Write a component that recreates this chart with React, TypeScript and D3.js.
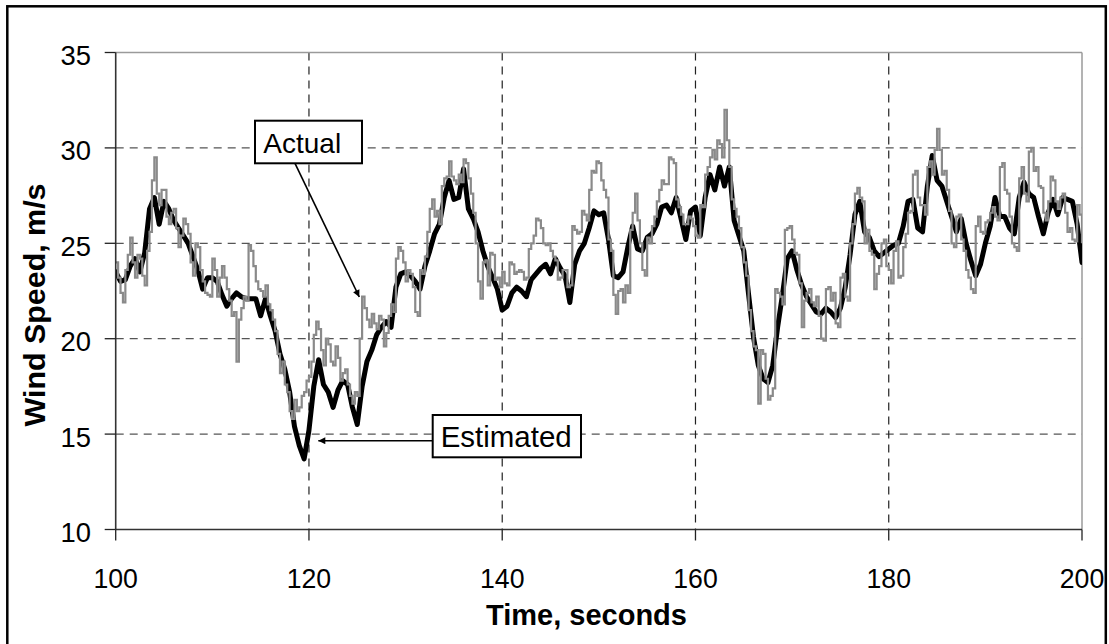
import React from "react";
import * as d3 from "d3";

// Sampling start / steps of the two records (seconds)
const T_START = 100;
const EST_STEP = 0.5;
const ACT_STEP = 0.25;

// Estimated wind speed (black, thick), m/s, every 0.5 s from 100 to 200
const estimated: number[] = [
  23.5, 23.0, 23.1, 23.8, 24.2, 23.5, 24.5, 26.8, 27.4, 26.0,
  27.2, 26.8, 26.2, 25.8, 25.4, 25.0, 24.3, 23.6, 22.6, 23.2,
  23.2, 23.0, 22.3, 21.7, 22.1, 22.4, 22.2, 22.1, 22.1, 22.1,
  21.2, 22.1, 21.2, 20.4, 19.2, 18.4, 17.2, 15.4, 14.4, 13.7,
  15.2, 17.5, 18.9, 17.6, 17.2, 16.4, 17.3, 17.8, 17.6, 16.4,
  15.5, 17.5, 18.8, 19.4, 20.2, 20.6, 20.9, 20.6, 22.7, 23.4,
  23.5, 23.3, 23.0, 22.6, 23.8, 24.6, 25.5, 26.0, 27.4, 28.3,
  27.3, 27.4, 28.9, 26.8, 26.3, 25.6, 24.6, 23.8, 23.2, 22.6,
  21.5, 21.7, 22.4, 22.7, 22.5, 22.2, 23.1, 23.4, 23.7, 23.9,
  23.4, 24.2, 23.7, 23.3, 21.9, 23.9, 24.6, 25.0, 25.8, 26.7,
  26.5, 26.6, 25.2, 23.3, 23.2, 23.5, 24.8, 25.9, 24.7, 24.6,
  25.3, 25.5, 26.0, 26.9, 27.0, 26.6, 27.4, 26.3, 25.2, 26.7,
  26.9, 25.4, 27.4, 28.6, 27.8, 29.0, 28.0, 29.0, 26.2, 25.4,
  24.6, 22.3, 20.1, 18.6, 17.9, 17.7, 18.6, 20.6, 22.3, 24.2,
  24.6, 23.6, 22.8, 22.2, 21.8, 21.4, 21.3, 21.6, 21.4, 21.1,
  21.6, 22.7, 24.4, 26.5, 27.2, 25.6, 25.3, 24.6, 24.3, 24.5,
  24.7, 24.9, 25.0, 25.9, 27.2, 27.3, 25.8, 25.6, 28.0, 29.6,
  28.3, 28.0, 27.2, 26.4, 25.6, 26.3, 25.0, 24.1, 23.3, 23.9,
  25.0, 25.9, 27.4, 26.4, 26.4, 25.8, 25.5, 27.4, 28.2, 27.6,
  27.4, 26.4, 25.5, 26.6, 27.3, 26.5, 27.4, 27.3, 27.2, 26.0,
  24.0,
];

// Actual wind speed (grey, thin), m/s, every 0.25 s from 100 to 200 (8 values = 2 s per row)
const actual: number[] = [
  24.0, 23.2, 22.4, 21.9, 23.6, 24.4, 25.3, 24.0,
  23.2, 24.4, 24.2, 23.3, 22.8, 24.6, 25.6, 28.3,
  29.5, 27.6, 27.0, 27.8, 27.8, 26.4, 26.0, 26.6,
  26.8, 25.8, 24.8, 25.4, 26.3, 26.0, 25.5, 24.0,
  23.3, 25.0, 24.8, 23.6, 23.0, 22.4, 22.3, 22.2,
  24.2, 23.6, 22.2, 23.2, 23.8, 23.2, 22.6, 22.0,
  21.2, 21.4, 18.8, 21.0, 21.6, 22.2, 22.0, 24.9,
  24.6, 23.8, 23.0, 22.6, 22.5, 22.2, 22.8, 21.8,
  21.5, 21.0, 20.4, 19.2, 18.2, 18.8, 17.6, 17.2,
  16.2, 15.8, 16.8, 16.2, 16.4, 17.0, 17.2, 17.8,
  18.0, 18.8, 20.2, 20.9, 20.5, 19.4, 18.6, 20.0,
  19.7, 18.8, 18.6, 19.6, 19.0, 17.8, 18.2, 18.4,
  17.6, 17.0, 16.6, 17.2, 17.0, 20.0, 22.2, 21.6,
  21.0, 20.6, 21.3, 20.8, 20.5, 21.2, 21.0, 19.6,
  20.3, 21.2, 21.8, 21.4, 24.2, 24.8, 24.6, 24.0,
  23.0, 23.6, 23.4, 22.7, 21.4, 21.2, 23.6, 23.4,
  24.3, 25.6, 26.8, 27.3, 26.4, 26.7, 26.0, 28.0,
  28.4, 28.5, 29.3, 28.5, 28.3, 28.1, 28.6, 28.2,
  29.4, 29.2, 28.4, 27.6, 26.6, 25.0, 23.0, 22.1,
  24.0, 24.1, 22.8, 24.5, 24.4, 23.1, 23.2, 22.7,
  23.5, 22.9, 22.8, 24.0, 23.9, 23.4, 23.5, 23.6,
  23.5, 23.1, 23.2, 24.7, 25.0, 25.4, 26.3, 26.2,
  25.8, 25.0, 24.9, 25.0, 24.6, 24.3, 24.1, 23.1,
  23.2, 23.6, 23.6, 22.7, 22.8, 25.9, 25.7, 25.5,
  25.6, 26.7, 26.5, 26.2, 27.8, 28.8, 28.7, 29.3,
  29.2, 28.3, 27.8, 27.4, 25.2, 24.6, 22.3, 21.3,
  22.5, 22.6, 21.9, 22.8, 22.4, 25.7, 26.6, 27.6,
  26.2, 25.0, 23.6, 23.3, 25.3, 25.0, 25.9, 26.4,
  27.2, 27.8, 28.3, 28.1, 28.1, 29.5, 29.4, 29.2,
  27.3, 26.9, 26.5, 26.0, 26.0, 26.4, 26.3, 25.9,
  25.4, 25.3, 27.0, 26.9, 28.6, 29.0, 29.5, 29.9,
  29.4, 30.4, 30.2, 29.5, 32.0, 30.4, 29.0, 27.3,
  26.8, 26.4, 25.8, 24.8, 24.0, 23.3, 21.5, 20.4,
  19.6, 19.4, 16.6, 19.4, 19.2, 17.9, 16.8, 17.0,
  17.4, 22.6, 22.4, 22.2, 21.8, 25.7, 25.8, 25.9,
  25.2, 24.5, 24.4, 22.9, 20.6, 22.0, 22.4, 22.6,
  21.9, 21.7, 22.2, 21.2, 20.0, 19.9, 22.6, 22.7,
  22.0, 22.4, 20.8, 20.6, 23.2, 23.4, 22.2, 22.0,
  25.0, 26.0, 27.6, 27.9, 27.4, 27.2, 25.0, 25.7,
  24.6, 24.4, 22.6, 23.4, 23.8, 25.0, 25.2, 23.8,
  23.6, 22.9, 24.6, 25.1, 23.2, 23.3, 24.8, 25.5,
  26.6, 26.7, 28.6, 28.8, 27.4, 27.0, 27.0, 26.5,
  29.0, 29.3, 28.6, 29.9, 31.0, 29.9, 28.6, 28.8,
  27.8, 26.7, 25.0, 24.8, 26.4, 26.5, 25.2, 24.6,
  23.6, 23.2, 22.6, 22.4, 25.9, 26.4, 25.6, 25.5,
  26.1, 26.2, 26.6, 26.9, 26.4, 26.2, 29.0, 29.2,
  27.8, 27.6, 26.4, 25.0, 24.8, 24.6, 28.4, 29.0,
  27.6, 27.2, 29.8, 30.0, 28.8, 29.0, 28.0, 27.9,
  26.6, 26.2, 27.2, 28.5, 28.3, 27.2, 26.8, 27.4,
  27.6, 26.6, 25.6, 25.8, 25.2, 25.1, 27.0, 26.5,
  25.0,
];

const xTicks = [100, 120, 140, 160, 180, 200];
const yTicks = [10, 15, 20, 25, 30, 35];
const xGrid = [120, 140, 160, 180];
const yGrid = [15, 20, 25, 30];

const FONT = "Arial, 'Liberation Sans', Helvetica, sans-serif";

export default function App() {
  const W = 1109;
  const H = 644;
  const x = d3.scaleLinear().domain([100, 200]).range([115.7, 1082]);
  const y = d3.scaleLinear().domain([10, 35]).range([529.5, 52.5]);

  const estPts: [number, number][] = estimated.map((v, i) => [T_START + i * EST_STEP, v]);
  const actPts: [number, number][] = actual.map((v, i) => [T_START + i * ACT_STEP, v]);

  const estLine = d3
    .line<[number, number]>()
    .x((d) => x(d[0]))
    .y((d) => y(d[1]))
    .curve(d3.curveLinear);
  const actLine = d3
    .line<[number, number]>()
    .x((d) => x(d[0]))
    .y((d) => y(d[1]))
    .curve(d3.curveStepAfter);

  const x0 = x(100);
  const x1 = x(200);
  const yTop = y(35);
  const yBot = y(10);

  return (
    <svg
      width={W}
      height={H}
      viewBox={`0 0 ${W} ${H}`}
      style={{ position: "absolute", left: 0, top: 0, background: "#fff" }}
      fontFamily={FONT}
    >
      <defs>
        <marker id="arr" viewBox="0 0 10 10" refX="10" refY="5" markerWidth="9" markerHeight="7" orient="auto" markerUnits="userSpaceOnUse">
          <path d="M0,0 L10,5 L0,10 z" fill="#000" />
        </marker>
        <clipPath id="plotclip">
          <rect x={x0} y={yTop - 10} width={x1 - x0} height={yBot - yTop + 10} />
        </clipPath>
      </defs>
      <rect x={0} y={0} width={W} height={H} fill="#fff" />
      {/* outer frame */}
      <rect x={7.3} y={6.3} width={1098.5} height={650} fill="none" stroke="#000" strokeWidth={2.5} />

      {/* horizontal grid */}
      {yGrid.map((v) => (
        <line key={"hg" + v} x1={x0} x2={x1} y1={y(v)} y2={y(v)} stroke="#555" strokeWidth={1.2} strokeDasharray="8,6" />
      ))}
      {/* vertical grid */}
      {xGrid.map((v) => (
        <line key={"vg" + v} x1={x(v)} x2={x(v)} y1={yTop} y2={yBot} stroke="#222" strokeWidth={1.2} strokeDasharray="8,6" />
      ))}

      {/* plot border top/right (grey) */}
      <line x1={x0} x2={x1} y1={yTop} y2={yTop} stroke="#9a9a9a" strokeWidth={1.5} />
      <line x1={x1} x2={x1} y1={yTop} y2={yBot} stroke="#9a9a9a" strokeWidth={1.5} />

      {/* series */}
      <g clipPath="url(#plotclip)">
        <path d={estLine(estPts) || ""} fill="none" stroke="#000" strokeWidth={5} strokeLinejoin="round" strokeLinecap="round" />
        <path d={actLine(actPts) || ""} fill="none" stroke="#8a8a8a" strokeWidth={2.2} strokeLinejoin="miter" />
      </g>

      {/* axes */}
      <line x1={x0} x2={x0} y1={yTop} y2={yBot} stroke="#333" strokeWidth={1.6} />
      <line x1={x0} x2={x1} y1={yBot} y2={yBot} stroke="#333" strokeWidth={1.6} />
      {yTicks.map((v) => (
        <g key={"yt" + v}>
          <line x1={x0 - 11} x2={x0} y1={y(v)} y2={y(v)} stroke="#222" strokeWidth={1.3} />
          <text x={91} y={y(v) + 12.5} fontSize={28} textAnchor="end" textLength={30.5} lengthAdjust="spacingAndGlyphs" fill="#000">
            {v}
          </text>
        </g>
      ))}
      {xTicks.map((v) => (
        <g key={"xt" + v}>
          <line x1={x(v)} x2={x(v)} y1={yBot} y2={yBot + 11} stroke="#222" strokeWidth={1.3} />
          <text x={x(v)} y={587.5} fontSize={28} textAnchor="middle" textLength={44.5} lengthAdjust="spacingAndGlyphs" fill="#000">
            {v}
          </text>
        </g>
      ))}

      {/* axis titles */}
      <text x={586.5} y={625} fontSize={29} fontWeight="bold" textAnchor="middle" fill="#000">
        Time, seconds
      </text>
      <text
        transform="translate(45,305) rotate(-90)"
        fontSize={30}
        fontWeight="bold"
        textAnchor="middle"
        textLength={243}
        lengthAdjust="spacingAndGlyphs"
        fill="#000"
      >
        Wind Speed, m/s
      </text>

      {/* annotations */}
      <line x1={295} y1={163.3} x2={359.3} y2={297} stroke="#000" strokeWidth={1.6} markerEnd="url(#arr)" />
      <rect x={255} y={120.7} width={107} height={42.6} fill="#fff" stroke="#000" strokeWidth={2} />
      <text x={263.3} y={152.7} fontSize={28} fill="#000">
        Actual
      </text>

      <line x1={432.7} y1={440.7} x2={318.3} y2={440.7} stroke="#000" strokeWidth={1.6} markerEnd="url(#arr)" />
      <rect x={432.7} y={415} width={148.3} height={42.3} fill="#fff" stroke="#000" strokeWidth={2} />
      <text x={440.7} y={446.7} fontSize={29} textLength={131} lengthAdjust="spacingAndGlyphs" fill="#000">
        Estimated
      </text>
    </svg>
  );
}
